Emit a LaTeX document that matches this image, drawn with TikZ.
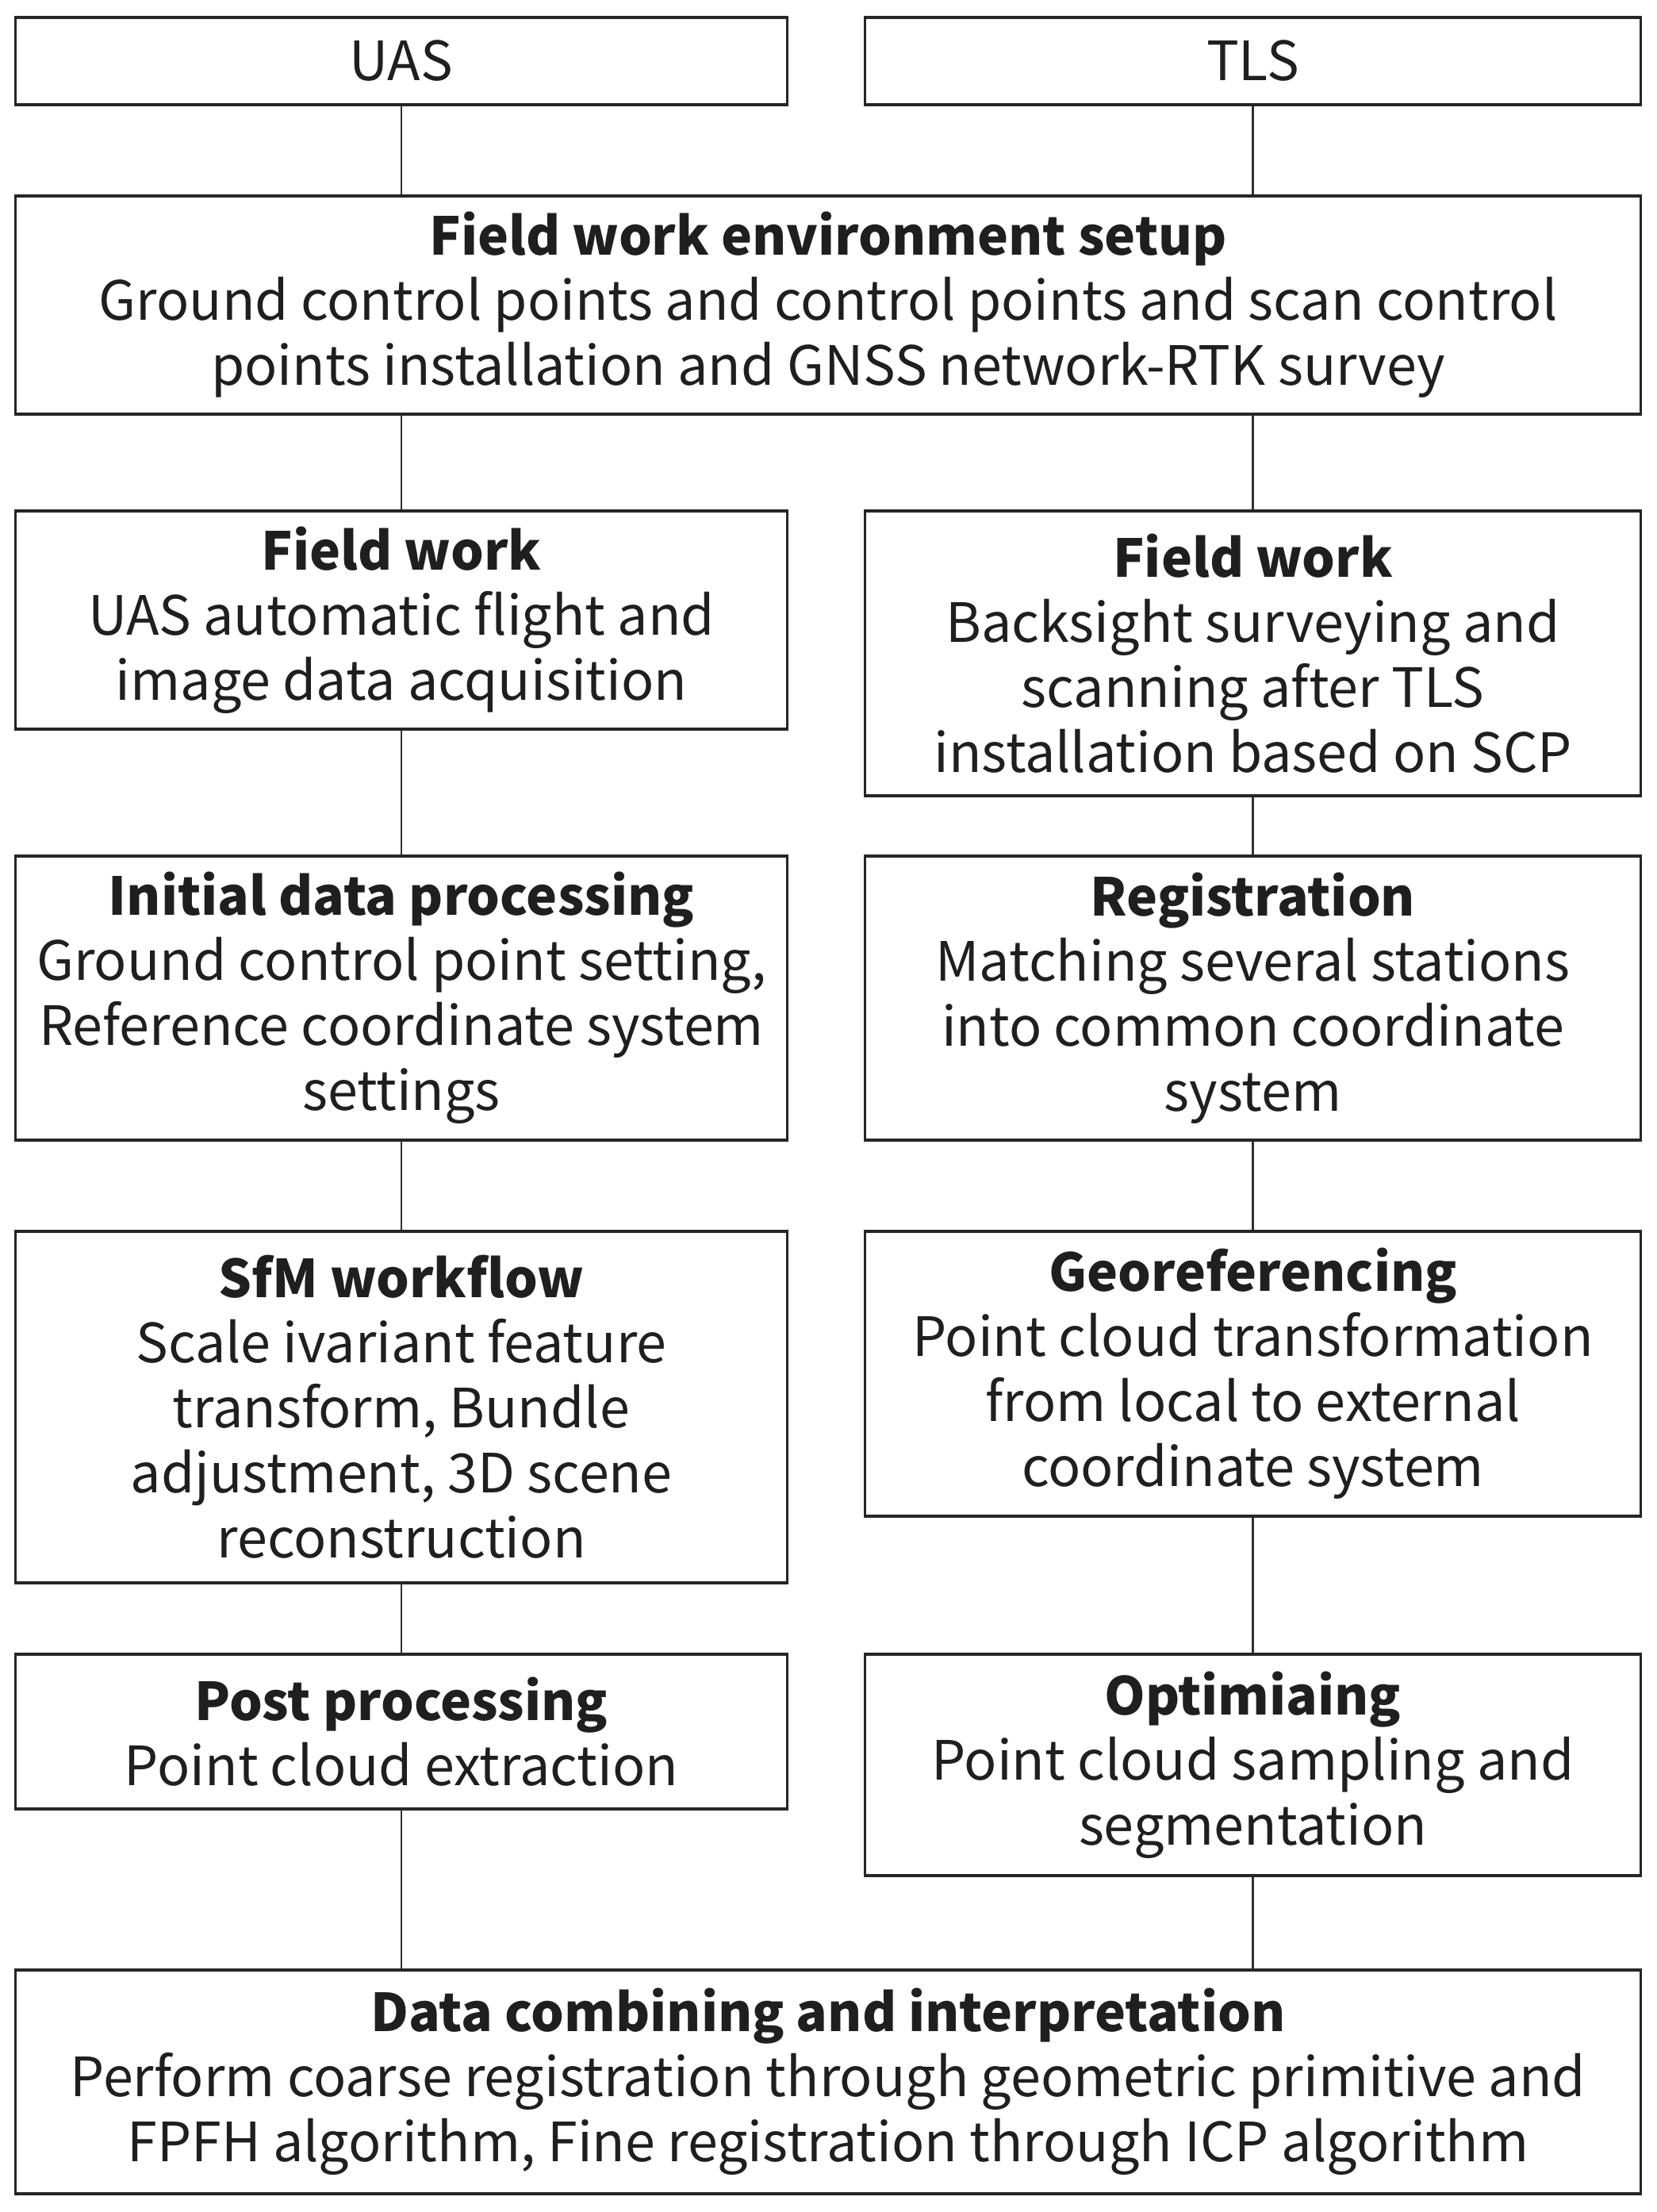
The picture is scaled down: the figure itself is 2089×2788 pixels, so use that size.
\documentclass[tikz,border=0pt]{standalone}
\usepackage{fontspec}
\setmainfont{Noto Sans CJK KR}
\newcommand\boxtitle[1]{{\fontsize{18.7}{23.3}\selectfont\bfseries #1}}
\begin{document}
\begin{tikzpicture}[x=0.01cm,y=-0.01cm,
  box/.style={draw=black!85, line width=1pt, inner sep=0pt, align=center, anchor=center,
    text=black!88, font=\fontsize{19.4}{23.3}\selectfont},
  conn/.style={draw=black!80, line width=0.8pt}]
\useasboundingbox (0,0) rectangle (2089,2788);
\def\LW{9.72cm}\def\RW{9.77cm}\def\WW{20.48cm}
% headers
\node[box, minimum width=\LW, minimum height=1.10cm] (uas) at (506,77) {UAS};
\node[box, minimum width=\RW, minimum height=1.10cm] (tls) at (1579.5,77) {TLS};
\node[box, minimum width=\WW, minimum height=2.75cm] (env) at (1044,384.5)
 {\boxtitle{Field work environment setup}\\Ground control points and control points and scan control\\points installation and GNSS network-RTK survey};
\node[box, minimum width=\LW, minimum height=2.75cm] (fwl) at (506,781.5)
 {\boxtitle{Field work}\\UAS automatic flight and\\image data acquisition};
\node[box, minimum width=\RW, minimum height=3.59cm] (fwr) at (1579.5,823.5)
 {\boxtitle{Field work}\\Backsight surveying and\\scanning after TLS\\installation based on SCP};
\node[box, minimum width=\LW, minimum height=3.58cm] (idp) at (506,1258)
 {\boxtitle{Initial data processing}\\Ground control point setting,\\Reference coordinate system\\settings};
\node[box, minimum width=\RW, minimum height=3.58cm] (reg) at (1579.5,1258)
 {\boxtitle{Registration}\\Matching several stations\\into common coordinate\\system};
\node[box, minimum width=\LW, minimum height=4.43cm] (sfm) at (506,1773.5)
 {\boxtitle{SfM workflow}\\Scale ivariant feature\\transform, Bundle\\adjustment, 3D scene\\reconstruction};
\node[box, minimum width=\RW, minimum height=3.59cm] (geo) at (1579.5,1731.5)
 {\boxtitle{Georeferencing}\\Point cloud transformation\\from local to external\\coordinate system};
\node[box, minimum width=\LW, minimum height=1.95cm] (post) at (506,2182.5)
 {\boxtitle{Post processing}\\Point cloud extraction};
\node[box, minimum width=\RW, minimum height=2.79cm] (opt) at (1579.5,2224.5)
 {\boxtitle{Optimiaing}\\Point cloud sampling and\\segmentation};
\node[box, minimum width=\WW, minimum height=2.82cm] (data) at (1044,2624)
 {\boxtitle{Data combining and interpretation}\\Perform coarse registration through geometric primitive and\\FPFH algorithm, Fine registration through ICP algorithm};
% connectors
\draw[conn] (uas.south) -- (uas.south |- env.north);
\draw[conn] (tls.south) -- (tls.south |- env.north);
\draw[conn] (fwl.north |- env.south) -- (fwl.north);
\draw[conn] (fwr.north |- env.south) -- (fwr.north);
\draw[conn] (fwl.south) -- (idp.north);
\draw[conn] (fwr.south) -- (reg.north);
\draw[conn] (idp.south) -- (sfm.north);
\draw[conn] (reg.south) -- (geo.north);
\draw[conn] (sfm.south) -- (post.north);
\draw[conn] (geo.south) -- (opt.north);
\draw[conn] (post.south) -- (post.south |- data.north);
\draw[conn] (opt.south) -- (opt.south |- data.north);
\end{tikzpicture}
\end{document}
